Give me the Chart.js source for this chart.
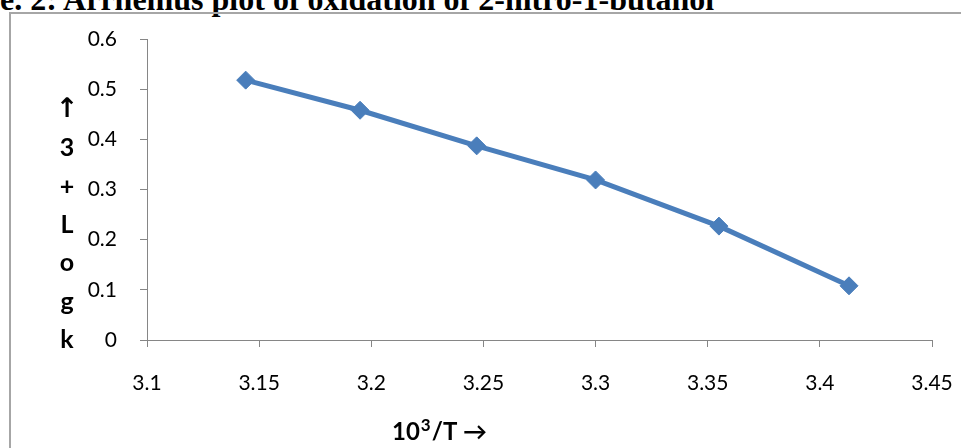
<!DOCTYPE html>
<html>
<head>
<meta charset="utf-8">
<script src="https://cdn.jsdelivr.net/npm/chart.js@4/dist/chart.umd.min.js"></script>
<style>
    body { margin: 0; background: #fff; }
    #wrap { position: relative; width: 961px; height: 448px; overflow: hidden; }
    #frame {
        position: absolute; left: 9px; top: 12px; right: -10px; bottom: -10px;
        border-left: 2px solid #a6a6a6; border-top: 2px solid #a6a6a6;
    }
    #title {
        position: absolute; left: 0; top: -17px; white-space: nowrap;
        font: bold 32px/32px "Liberation Serif", "Times New Roman", serif; color: #000;
    }
    #chart { position: absolute; left: 0; top: 0; }
</style>
</head>
<body>
<div id="wrap">
    <div id="title">e. 2: Arrhenius plot of oxidation of 2-nitro-1-butanol</div>
    <div id="frame"></div>
    <canvas id="chart" width="961" height="448"></canvas>
</div>
<script>
// data
const xValues = [3.144, 3.195, 3.247, 3.300, 3.355, 3.413];
const yValues = [0.518, 0.458, 0.387, 0.319, 0.227, 0.108];
const xTickValues = [3.1, 3.15, 3.2, 3.25, 3.3, 3.35, 3.4, 3.45];
const yTickValues = [0, 0.1, 0.2, 0.3, 0.4, 0.5, 0.6];
const yTitleLines = ["\u2191", "3", "+", "L", "o", "g", "k"];
const xTitleParts = ["10", "3", "/T \u2192"];

const tickFont = { family: "'Liberation Sans Narrow', 'Arial Narrow', Lato, sans-serif", size: 21 };
const titleFamily = "Lato, 'DejaVu Sans', sans-serif";
const axisGray = "#868686";

// draws the two axis titles the way the original has them (stacked letters, off-centre x title)
const axisTitles = {
    id: "axisTitles",
    afterDraw(chart) {
        const ctx = chart.ctx;
        ctx.save();
        ctx.fillStyle = "#000";
        ctx.textBaseline = "middle";
        ctx.textAlign = "center";
        yTitleLines.forEach((s, i) => {
            ctx.font = i === 0 ? "bold 27px 'DejaVu Sans', sans-serif" : "bold 25px " + titleFamily;
            ctx.fillText(s, 67, 110 + i * 38.3);
        });

        // 10^3/T ->, superscript drawn smaller and raised
        ctx.textAlign = "left";
        ctx.textBaseline = "alphabetic";
        let x = 392;
        const base = 440;
        ctx.font = "bold 24px " + titleFamily;
        ctx.fillText(xTitleParts[0], x, base);
        x += ctx.measureText(xTitleParts[0]).width + 1;
        ctx.font = "bold 17px " + titleFamily;
        ctx.fillText(xTitleParts[1], x, base - 9);
        x += ctx.measureText(xTitleParts[1]).width + 1;
        ctx.font = "bold 24px " + titleFamily;
        ctx.fillText(xTitleParts[2], x, base);
        ctx.restore();
    }
};

function fixedTicks(values) {
    return scale => {
        scale.ticks = values.map(v => ({ value: v }));
    };
}

new Chart(document.getElementById("chart"), {
    type: "scatter",
    data: {
        datasets: [{
            data: xValues.map((x, i) => ({ x: x, y: yValues[i] })),
            showLine: true,
            borderColor: "#4a7ebb",
            borderWidth: 5,
            backgroundColor: "#4a7ebb",
            pointStyle: "rectRot",
            pointRadius: 9,
            pointBorderWidth: 1,
            tension: 0
        }]
    },
    options: {
        responsive: false,
        animation: false,
        devicePixelRatio: 1,
        layout: { padding: { left: 0, right: 29, top: 39, bottom: 0 } },
        plugins: { legend: { display: false }, tooltip: { enabled: false } },
        scales: {
            x: {
                type: "linear",
                min: 3.1,
                max: 3.45,
                afterBuildTicks: fixedTicks(xTickValues),
                afterFit: scale => {
                    scale.height = 108;
                    scale.paddingLeft = 0;
                    scale.paddingRight = 0;
                },
                ticks: {
                    font: tickFont,
                    color: "#000",
                    padding: 24,
                    maxRotation: 0,
                    callback: v => String(parseFloat(v.toFixed(2)))
                },
                grid: { drawOnChartArea: false, drawTicks: true, tickLength: 7, color: axisGray },
                border: { color: axisGray, width: 1 }
            },
            y: {
                min: 0,
                max: 0.6,
                afterBuildTicks: fixedTicks(yTickValues),
                afterFit: scale => { scale.width = 147; },
                ticks: {
                    font: tickFont,
                    color: "#000",
                    padding: 23,
                    callback: v => String(parseFloat(v.toFixed(2)))
                },
                grid: { drawOnChartArea: false, drawTicks: true, tickLength: 7, color: axisGray },
                border: { color: axisGray, width: 1 }
            }
        }
    },
    plugins: [axisTitles]
});
</script>
</body>
</html>
